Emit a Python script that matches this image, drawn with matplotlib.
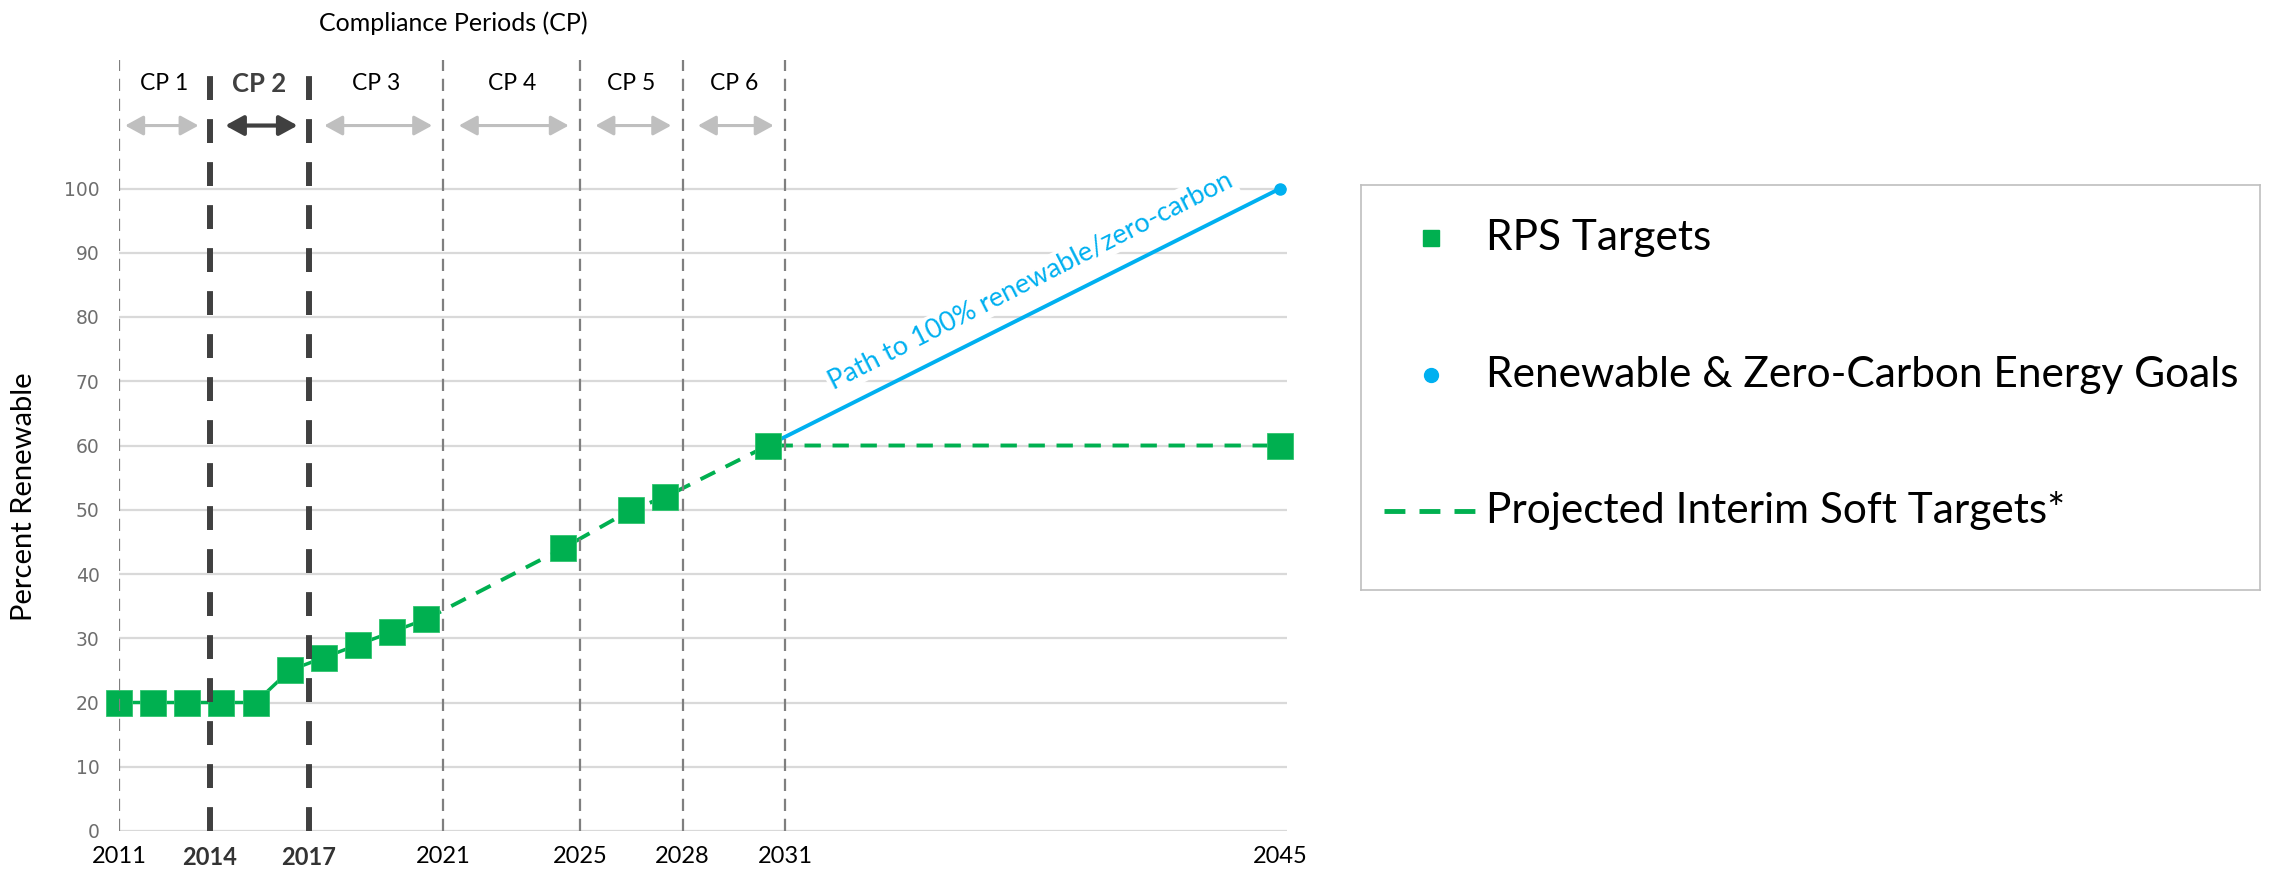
import matplotlib
matplotlib.use('Agg')
import matplotlib.pyplot as plt

plt.rcParams['font.family'] = ['Lato', 'DejaVu Sans']

GREEN = '#00B050'
BLUE = '#00B0F0'

# RPS targets (percent renewable)
rps_years = [2011, 2012, 2013, 2014, 2015, 2016, 2017, 2018, 2019, 2020,
             2024, 2026, 2027, 2030, 2045]
rps_vals = [20, 20, 20, 20, 20, 25, 27, 29, 31, 33, 44, 50, 52, 60, 60]
n_adopted = 10  # first points joined by the solid line

# renewable & zero-carbon goal
goal_years = [2030, 2045]
goal_vals = [60, 100]

# compliance periods
cp_start_years = [2011, 2014, 2017, 2021, 2025, 2028, 2031]
cp_labels = ['CP 1', 'CP 2', 'CP 3', 'CP 4', 'CP 5', 'CP 6']
bold_years = [2014, 2017]
last_year = 2045

fig = plt.figure(figsize=(22.89, 8.75), dpi=100)
ax = fig.add_axes([119 / 2289, 44 / 875, 1168 / 2289, 771 / 875])

ax.set_xlim(2011, 2045.2)
ax.set_ylim(0, 120)
ax.set_yticks(range(0, 101, 10))
ax.yaxis.grid(True, color='#d9d9d9', lw=1.6, zorder=0)
ax.set_axisbelow(True)
for s in ax.spines.values():
    s.set_visible(False)
ax.tick_params(axis='y', length=0, pad=14, labelsize=13.5, labelcolor='#6e6e6e')
for lbl in ax.get_yticklabels():
    lbl.set_family('DejaVu Sans')

# where the boundary lines were drawn (between categories)
bounds = [2011, 2013.66, 2016.56, 2020.5, 2024.5, 2027.5, 2030.5]
ax.set_xticks(bounds + [last_year])
ax.set_xticklabels([str(y) for y in cp_start_years] + [str(last_year)])
ax.tick_params(axis='x', length=0, pad=11, labelsize=17, labelcolor='black')
for lbl in ax.get_xticklabels():
    if int(lbl.get_text()) in bold_years:
        lbl.set_fontweight('bold')
        lbl.set_color('#333333')

for y, b in zip(cp_start_years, bounds):
    if y in bold_years:
        ax.axvline(b, color='#404040', lw=4.3, linestyle=(0, (4.0, 3.2)), zorder=5)
    else:
        ax.axvline(b, color='#7f7f7f', lw=1.6, linestyle=(0, (5.5, 3.5)), zorder=5)

# period labels + arrows
for i, lab in enumerate(cp_labels):
    x0, x1 = bounds[i], bounds[i + 1]
    mid = (x0 + x1) / 2
    if lab == 'CP 2':
        ax.text(mid, 116.3, lab, ha='center', va='center', fontsize=18.5,
                fontweight='bold', color='#404040', clip_on=False)
        col, lw = '#404040', 3
    else:
        ax.text(mid, 116.3, lab, ha='center', va='center', fontsize=16.5,
                color='black', clip_on=False)
        col, lw = '#bfbfbf', 2.2
    left = 0.18 if i == 0 else 0.45
    ax.annotate('', xy=(x1 - 0.33, 109.8), xytext=(x0 + left, 109.8),
                arrowprops=dict(arrowstyle='<|-|>,head_length=0.55,head_width=0.3',
                                color=col, lw=lw, shrinkA=0, shrinkB=0,
                                mutation_scale=20),
                annotation_clip=False)

ax.text(2020.8, 125.8, 'Compliance Periods (CP)', ha='center', va='center',
        fontsize=18, color='black', clip_on=False)

# series
ax.plot(rps_years[:n_adopted], rps_vals[:n_adopted], '-', color=GREEN, lw=2.5, zorder=3)
ax.plot(rps_years[n_adopted - 1:], rps_vals[n_adopted - 1:], color=GREEN, lw=2.8,
        linestyle=(0, (4.2, 3.0)), zorder=3)
ax.plot(goal_years, goal_vals, '-', color=BLUE, lw=2.8, zorder=3)
ax.plot(goal_years[-1:], goal_vals[-1:], 'o', color=BLUE, ms=8, clip_on=False, zorder=4)
ax.plot(rps_years, rps_vals, 's', color=GREEN, ms=18.5, mec='#2fc46e', mew=0.6,
        clip_on=False, zorder=4)

ax.text(2037.7, 85.7, 'Path to 100% renewable/zero-carbon', rotation=27,
        rotation_mode='anchor', ha='center', va='center', fontsize=19.5, color=BLUE,
        bbox=dict(facecolor='white', edgecolor='none', pad=2), zorder=2)

ax.set_ylabel('Percent Renewable', fontsize=21)
ax.yaxis.set_label_coords(-0.070, 0.434)

# legend box (pixel units)
lax = fig.add_axes([1361 / 2289, 1 - 590 / 875, 899 / 2289, 405 / 875])
lax.set_xlim(0, 899)
lax.set_ylim(405, 0)
lax.set_xticks([])
lax.set_yticks([])
for s in lax.spines.values():
    s.set_color('#bfbfbf')
    s.set_linewidth(1.2)
lax.plot([70], [53], 's', color=GREEN, ms=11)
lax.plot([70], [190], 'o', color=BLUE, ms=10)
lax.plot([23, 114], [326, 326], color=GREEN, lw=3.5, linestyle=(0, (4.3, 2.9)))
entries = ['RPS Targets', 'Renewable & Zero-Carbon Energy Goals',
           'Projected Interim Soft Targets*']
for txt, yy in zip(entries, [53, 190, 326]):
    lax.text(125, yy, txt, va='center', ha='left', fontsize=30.5, color='black')

fig.savefig('out.png', dpi=100)
